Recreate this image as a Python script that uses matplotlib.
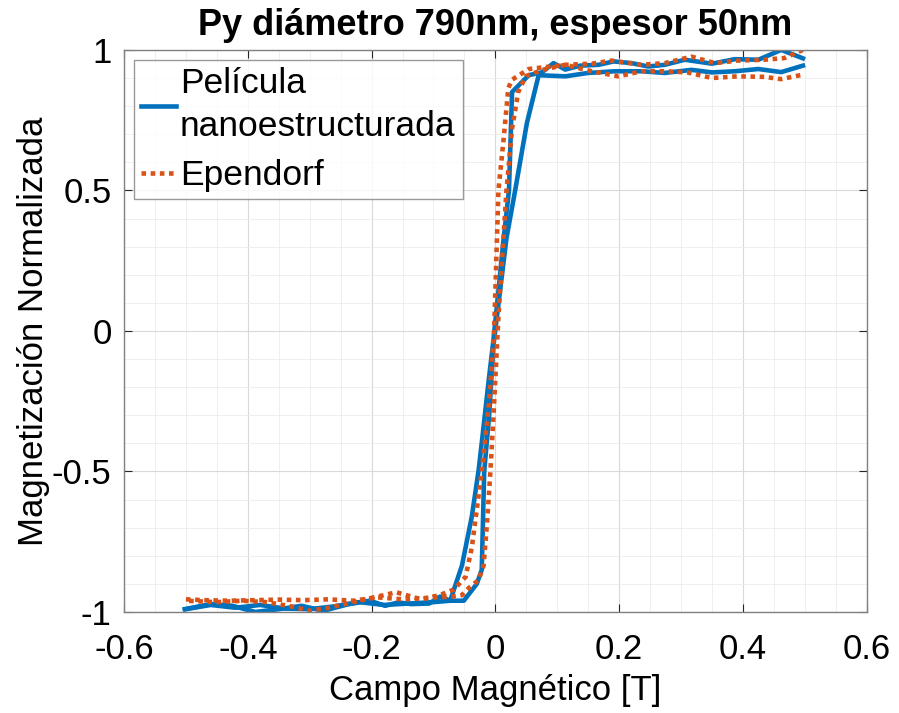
import matplotlib.pyplot as plt
from matplotlib.ticker import MultipleLocator

plt.rcParams['font.family'] = ['Liberation Sans', 'DejaVu Sans']

# Película nanoestructurada - rama descendente (de +0.5 a -0.5)
pel_desc_x = [0.497, 0.462, 0.425, 0.387, 0.35, 0.306, 0.274, 0.247, 0.22, 0.191,
              0.167, 0.137, 0.113, 0.094, 0.075, 0.054, 0.027, 0.022, 0.012, 0.004,
              -0.003, -0.012, -0.02, -0.027, -0.038, -0.054, -0.073, -0.089, -0.107,
              -0.136, -0.157, -0.178, -0.203, -0.237, -0.278, -0.313, -0.35, -0.388,
              -0.425, -0.46, -0.502]
pel_desc_y = [0.97, 1.0, 0.965, 0.967, 0.951, 0.965, 0.947, 0.941, 0.953, 0.959,
              0.947, 0.944, 0.93, 0.953, 0.92, 0.91, 0.85, 0.5, 0.3, 0.12,
              -0.03, -0.2, -0.36, -0.495, -0.66, -0.835, -0.96, -0.945, -0.97,
              -0.972, -0.966, -0.978, -0.96, -0.972, -0.996, -0.978, -0.99, -1.0,
              -0.978, -0.972, -0.99]

# Película nanoestructurada - rama ascendente (de -0.5 a +0.5)
pel_asc_x = [-0.5, -0.46, -0.42, -0.38, -0.34, -0.3, -0.26, -0.22, -0.18, -0.14,
             -0.1, -0.073, -0.051, -0.03, -0.022, -0.018, -0.01, -0.003, 0.008,
             0.018, 0.032, 0.051, 0.07, 0.113, 0.15, 0.193, 0.236, 0.274, 0.317,
             0.35, 0.387, 0.425, 0.462, 0.497]
pel_asc_y = [-0.99, -0.975, -0.985, -0.975, -0.988, -0.99, -0.98, -0.965, -0.975, -0.97,
             -0.965, -0.96, -0.96, -0.9, -0.85, -0.5, -0.3, -0.05, 0.15,
             0.33, 0.5, 0.74, 0.91, 0.906, 0.918, 0.924, 0.924, 0.918, 0.929,
             0.92, 0.924, 0.932, 0.921, 0.944]

# Ependorf - rama descendente
epe_desc_x = [0.497, 0.467, 0.435, 0.392, 0.355, 0.317, 0.274, 0.236, 0.188, 0.156,
              0.113, 0.054, 0.027, 0.021, 0.013, 0.005, -0.002, -0.01, -0.022, -0.038,
              -0.048, -0.067, -0.09, -0.12, -0.16, -0.2, -0.24, -0.27, -0.3, -0.33,
              -0.37, -0.41, -0.45, -0.5]
epe_desc_y = [1.0, 0.971, 0.965, 0.962, 0.953, 0.976, 0.953, 0.947, 0.962, 0.951,
              0.947, 0.932, 0.894, 0.865, 0.675, 0.5, 0.0, -0.25, -0.5, -0.77,
              -0.875, -0.92, -0.94, -0.955, -0.93, -0.95, -0.97, -0.985, -0.996, -0.98,
              -0.965, -0.96, -0.965, -0.96]

# Ependorf - rama ascendente
epe_asc_x = [-0.5, -0.47, -0.43, -0.39, -0.35, -0.31, -0.27, -0.23, -0.19, -0.15,
             -0.11, -0.07, -0.054, -0.043, -0.027, -0.019, -0.013, -0.008, -0.003, 0.005,
             0.018, 0.027, 0.037, 0.049, 0.076, 0.113, 0.156, 0.199, 0.236, 0.274,
             0.31, 0.35, 0.392, 0.435, 0.462, 0.497]
epe_asc_y = [-0.955, -0.958, -0.96, -0.958, -0.956, -0.958, -0.955, -0.96, -0.948, -0.955,
             -0.95, -0.945, -0.94, -0.915, -0.886, -0.835, -0.67, -0.5, -0.3, 0.05,
             0.5, 0.72, 0.85, 0.906, 0.929, 0.947, 0.924, 0.906, 0.924, 0.924,
             0.92, 0.9, 0.906, 0.904, 0.896, 0.912]

azul = '#0072BD'
naranja = '#D95319'

fig = plt.figure(figsize=(8.99, 7.13), dpi=100)
ax = fig.add_axes([0.138, 0.1417, 0.826, 0.7883])

ax.plot(pel_desc_x, pel_desc_y, color=azul, lw=3.3, label='Película\nnanoestructurada')
ax.plot(pel_asc_x, pel_asc_y, color=azul, lw=3.3)
ax.plot(epe_desc_x, epe_desc_y, color=naranja, lw=3.3, linestyle=(0, (1, 1)), label='Ependorf')
ax.plot(epe_asc_x, epe_asc_y, color=naranja, lw=3.3, linestyle=(0, (1, 1)))

ax.set_xlim(-0.6, 0.6)
ax.set_ylim(-1, 1)
ax.set_xticks([-0.6, -0.4, -0.2, 0, 0.2, 0.4, 0.6])
ax.set_xticklabels(['-0.6', '-0.4', '-0.2', '0', '0.2', '0.4', '0.6'])
ax.set_yticks([-1, -0.5, 0, 0.5, 1])
ax.set_yticklabels(['-1', '-0.5', '0', '0.5', '1'])
ax.xaxis.set_minor_locator(MultipleLocator(0.05))
ax.yaxis.set_minor_locator(MultipleLocator(0.1))

ax.grid(True, which='major', color='#d9d9d9', lw=0.8)
ax.grid(True, which='minor', color='#ececec', lw=0.6)
ax.set_axisbelow(True)

ax.tick_params(which='both', direction='in', top=True, right=True, colors='#262626',
               labelsize=25, labelcolor='black')
ax.tick_params(which='major', length=6)
ax.tick_params(axis='x', which='major', pad=15)
ax.tick_params(axis='y', which='major', pad=9)
ax.tick_params(which='minor', length=0)
for s in ax.spines.values():
    s.set_color('#808080')
    s.set_linewidth(1)

ax.set_xlabel('Campo Magnético [T]', fontsize=25, labelpad=6)
ax.set_ylabel('Magnetización Normalizada', fontsize=25, labelpad=1)
ax.set_title('Py diámetro 790nm, espesor 50nm', fontsize=26, fontweight='bold', pad=11)

leg = ax.legend(loc='upper left', fontsize=25.5, frameon=True, fancybox=False,
                edgecolor='#808080', handlelength=1.0, handletextpad=0.1,
                borderpad=0.2, labelspacing=0.45, borderaxespad=0.28)
leg.get_frame().set_linewidth(1)
for t in leg.get_texts():
    t.set_linespacing(1.4)

plt.savefig('out.png', dpi=100)
